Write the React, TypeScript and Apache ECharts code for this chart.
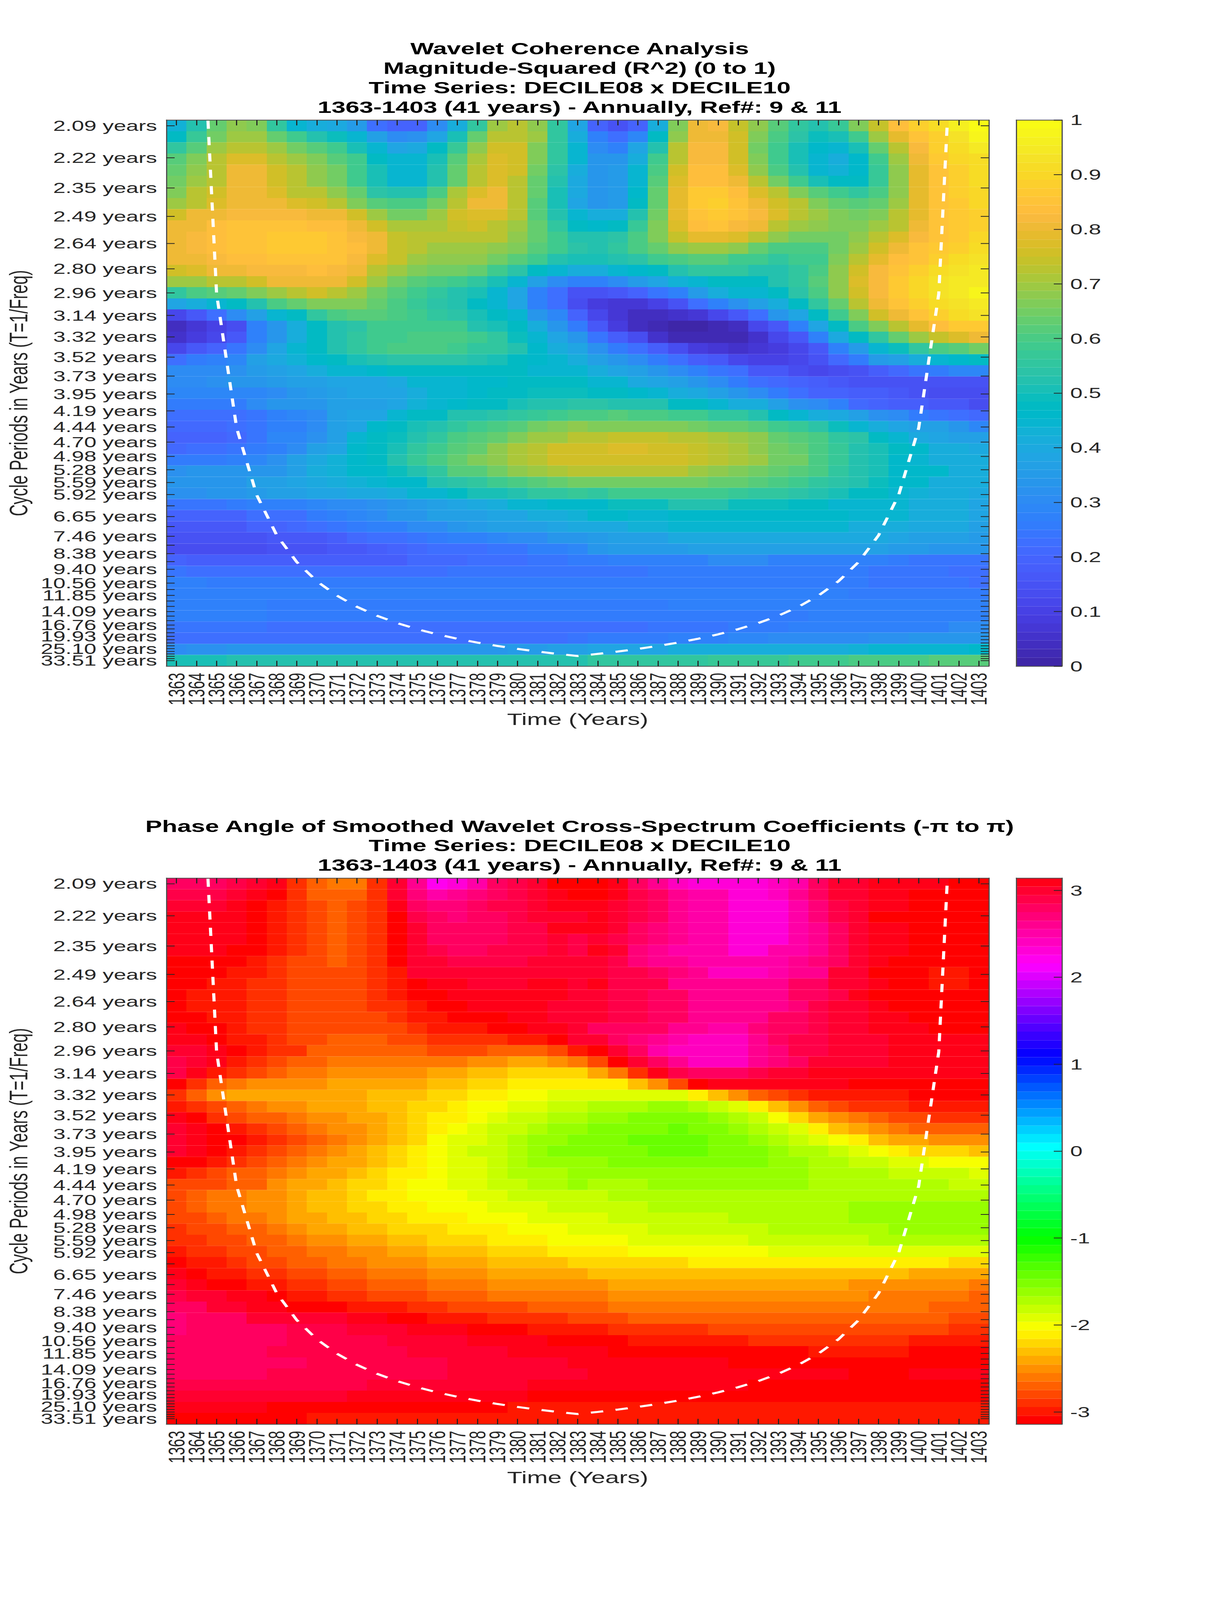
import React, { useEffect, useRef } from "react";
import * as echarts from "echarts";

const years = [1363,1364,1365,1366,1367,1368,1369,1370,1371,1372,1373,1374,1375,1376,1377,1378,1379,1380,1381,1382,1383,1384,1385,1386,1387,1388,1389,1390,1391,1392,1393,1394,1395,1396,1397,1398,1399,1400,1401,1402,1403];
const periods = [2.0944,2.2189,2.3509,2.4907,2.6388,2.7957,2.9619,3.1381,3.3247,3.5224,3.7319,3.9538,4.1889,4.438,4.7019,4.9815,5.2777,5.5915,5.924,6.2763,6.6495,7.0449,7.4638,7.9077,8.3779,8.8761,9.4039,9.9631,10.5555,11.1832,11.8482,12.5527,13.2991,14.0899,14.9278,15.8154,16.7559,17.7522,18.8079,19.9263,21.1112,22.3666,23.6966,25.1,26.5985,28.1802,29.8559,31.6313,33.5122];
const labelledRows = [0,1,2,3,4,5,6,7,8,9,10,11,12,13,14,15,16,17,18,20,22,24,26,28,30,33,36,39,43,48];

// cone of influence, period in years for 1364..1402
const coiYears = [1364,1365,1366,1367,1368,1369,1370,1371,1372,1373,1374,1375,1376,1377,1378,1379,1380,1381,1382,1383,1384,1385,1386,1387,1388,1389,1390,1391,1392,1393,1394,1395,1396,1397,1398,1399,1400,1401,1402];
const coiPeriods = [1.485,2.97,4.455,5.94,7.425,8.91,10.395,11.88,13.365,14.85,16.335,17.82,19.305,20.79,22.275,23.76,25.245,26.73,28.215,29.7,28.215,26.73,25.245,23.76,22.275,20.79,19.305,17.82,16.335,14.85,13.365,11.88,10.395,8.91,7.425,5.94,4.455,2.97,1.485];

// magnitude-squared coherence in percent, rows top to bottom
const coherence = [
[43,52,63,68,67,55,45,41,40,35,23,20,20,30,42,56,70,73,68,56,38,20,15,20,42,67,80,82,74,68,62,55,53,57,67,74,83,88,92,96,99],
[48,57,65,70,70,63,58,52,49,45,37,31,32,39,50,63,73,73,69,56,41,27,22,29,47,68,80,80,75,66,60,54,49,51,59,70,79,85,89,93,97],
[55,62,70,73,73,70,65,61,58,51,45,39,40,47,57,68,75,75,67,56,45,30,27,38,53,72,82,82,75,65,58,51,46,45,51,64,73,82,88,92,94],
[62,67,73,78,78,73,70,67,62,58,47,44,44,51,62,71,78,75,67,55,45,33,33,41,58,73,82,82,75,67,58,50,45,41,46,59,70,81,87,90,92],
[63,68,73,80,80,75,72,68,65,59,50,45,45,53,64,72,78,75,65,54,42,33,35,45,60,75,83,83,78,68,60,52,45,43,46,57,68,79,85,88,92],
[65,70,73,80,80,75,72,68,65,59,50,45,45,53,64,72,78,73,63,52,40,33,35,45,62,77,83,83,80,72,65,59,51,48,48,57,68,79,85,88,92],
[67,72,75,80,80,78,73,72,68,63,54,52,53,60,71,78,80,73,63,51,40,33,35,46,63,79,87,87,83,78,72,67,62,58,55,60,68,79,85,88,90],
[70,73,78,81,81,80,77,75,73,67,61,60,60,65,73,80,80,72,62,50,38,33,35,47,63,79,87,89,85,81,75,72,67,64,62,64,70,79,85,87,90],
[75,80,81,82,82,82,82,81,80,75,70,65,65,70,75,78,78,72,62,52,44,41,42,53,65,79,85,87,85,82,78,73,70,66,65,66,72,79,85,87,88],
[80,81,83,85,85,85,85,83,83,81,75,71,71,71,74,75,73,70,63,56,47,46,47,57,67,78,83,85,82,80,73,70,68,67,67,70,73,81,85,87,88],
[81,82,83,85,85,87,87,87,85,82,80,74,72,72,72,73,72,68,63,58,52,52,54,60,67,74,79,79,78,72,68,65,65,65,68,72,78,82,85,87,90],
[81,82,83,85,85,87,87,87,85,83,80,74,72,70,70,70,68,67,62,58,54,53,56,60,64,68,70,70,68,64,60,60,60,65,70,75,81,85,87,88,91],
[80,81,82,83,83,85,85,85,85,82,78,74,69,68,68,68,65,62,58,53,50,50,52,54,59,60,62,62,59,58,56,58,59,67,72,79,84,85,88,91,93],
[75,78,80,81,82,82,82,83,82,80,73,70,67,65,65,63,59,54,47,44,41,41,44,46,48,52,55,55,55,53,52,56,60,68,75,82,85,89,91,93,94],
[69,70,72,73,75,80,80,81,80,75,70,65,62,60,59,55,50,45,37,31,27,27,31,35,38,43,45,47,48,48,53,56,62,68,78,82,87,90,93,95,95],
[55,60,62,63,67,70,73,75,73,70,65,62,58,55,53,51,45,38,27,22,15,15,17,20,24,28,35,41,44,45,48,54,60,68,75,82,87,90,93,95,97],
[38,41,44,47,52,60,63,67,67,67,64,60,57,54,52,48,45,39,27,23,14,8,7,7,10,15,22,27,32,37,41,47,55,63,72,81,85,89,91,93,94],
[11,17,22,30,37,44,48,56,60,61,61,60,58,56,54,51,47,44,33,29,19,11,7,4,4,5,7,12,17,23,33,39,47,58,67,75,81,85,88,91,93],
[4,7,10,14,27,34,41,47,52,54,58,58,58,58,58,53,51,47,41,33,26,17,9,4,2,1,1,3,4,11,17,27,39,48,60,67,73,79,83,86,87],
[5,8,11,17,27,34,41,47,52,55,59,59,60,60,60,58,56,49,45,39,33,24,18,13,5,3,2,2,2,6,12,17,27,40,47,56,64,69,74,78,81],
[11,17,20,24,30,39,44,47,52,55,58,60,60,60,58,56,55,52,46,41,38,32,26,22,18,13,9,7,6,7,8,12,17,27,35,45,49,56,60,62,65],
[23,26,27,29,36,40,43,46,48,50,52,54,54,54,54,53,50,48,46,45,41,37,34,30,26,22,18,16,12,10,10,11,15,21,26,35,37,41,45,46,47],
[30,30,31,32,35,37,39,42,44,45,46,48,48,48,48,48,48,47,45,45,45,41,39,36,33,31,27,24,22,17,16,13,12,13,15,18,21,24,26,29,29],
[31,31,32,33,34,35,36,37,38,38,38,40,44,45,45,46,46,47,47,47,47,45,44,40,39,36,34,30,26,23,21,20,18,16,15,15,15,15,15,15,15],
[29,29,29,29,29,31,33,35,36,38,38,39,42,44,45,46,47,47,49,49,49,47,47,46,45,42,40,37,34,31,26,22,20,19,18,18,16,15,14,13,13],
[26,26,26,26,30,33,33,34,36,37,37,39,43,45,46,47,48,50,52,53,54,54,53,53,53,48,47,45,42,41,37,32,30,27,21,20,18,18,16,16,14],
[22,22,22,23,24,28,29,31,36,38,38,44,47,48,52,53,54,56,57,59,60,60,61,60,60,58,58,56,55,53,47,45,42,40,36,32,30,26,24,23,21],
[21,21,21,22,24,27,27,31,36,38,46,47,50,52,55,58,60,62,65,66,68,67,67,67,67,67,65,64,63,61,58,57,54,49,45,42,39,37,36,33,29],
[20,20,20,21,24,29,29,32,37,45,47,49,53,56,60,62,64,67,69,70,72,72,74,74,74,72,72,71,70,68,64,61,60,56,54,47,45,40,39,36,36],
[21,22,23,24,26,28,30,36,38,46,47,50,55,58,62,64,68,71,73,75,76,75,78,78,75,75,74,73,71,68,65,63,60,57,53,51,47,46,41,41,40],
[26,26,26,28,29,32,36,40,43,46,48,52,57,60,64,66,68,71,73,75,76,75,75,75,75,75,74,73,71,69,65,65,60,57,53,50,46,45,42,41,41],
[32,33,33,33,33,34,36,41,43,46,46,49,52,56,61,62,65,68,70,71,72,72,72,72,72,72,70,68,67,65,64,61,60,55,53,50,46,46,46,42,41],
[34,34,34,34,36,36,38,40,42,43,45,46,46,52,54,56,58,60,62,64,65,65,65,65,65,65,65,63,63,61,60,58,56,54,52,49,46,46,42,42,41],
[32,32,33,34,35,37,37,38,39,40,40,42,44,45,47,50,51,53,55,56,57,56,58,58,58,58,58,58,57,56,56,54,53,50,48,47,45,43,42,41,40],
[24,24,24,26,27,27,27,29,30,31,32,33,35,37,38,40,42,44,45,46,46,46,49,49,49,52,52,52,49,49,49,47,47,45,44,44,44,41,41,41,38],
[20,20,20,20,22,23,23,25,27,29,31,33,34,36,37,37,38,39,41,42,43,46,46,45,45,46,46,46,46,46,46,46,46,46,44,44,44,41,41,41,38],
[17,17,17,17,19,20,21,23,24,25,27,28,30,31,33,35,36,37,37,38,40,40,40,43,43,44,44,44,44,44,44,44,44,44,41,41,41,40,40,40,37],
[15,15,15,15,15,17,17,17,18,21,22,23,24,26,27,28,29,30,31,33,34,35,37,37,37,40,40,40,40,40,40,40,40,40,40,40,39,37,37,37,35],
[14,14,14,14,14,15,15,15,16,17,18,20,21,22,23,23,24,24,27,28,29,33,35,35,35,35,37,37,37,37,37,37,36,36,36,36,35,35,33,33,33],
[19,18,18,18,18,18,18,18,18,18,18,18,21,21,21,22,22,23,24,24,25,25,27,27,27,27,27,30,30,30,28,28,28,28,27,27,25,24,24,24,24],
[24,23,23,23,23,23,23,23,23,23,23,23,23,23,24,24,24,24,24,24,24,24,24,24,25,25,25,25,25,25,25,25,25,25,25,24,24,24,24,23,23],
[27,27,26,26,26,26,26,26,26,26,26,26,26,26,26,26,26,26,26,26,25,25,25,25,25,25,25,25,25,25,25,25,25,25,25,24,24,24,24,24,22],
[28,28,28,28,28,28,28,28,27,27,27,27,27,27,27,27,27,27,27,27,27,27,27,27,27,27,27,27,27,27,27,27,27,27,25,25,25,25,25,25,25],
[27,27,27,27,27,26,26,26,26,26,26,26,26,26,26,26,26,26,26,26,26,26,26,26,26,27,27,27,27,27,27,27,27,27,27,27,27,27,27,27,27],
[27,27,27,27,27,26,26,25,25,25,25,25,25,25,25,25,25,25,25,25,25,25,26,26,26,26,26,26,26,26,26,26,27,28,28,28,28,28,28,28,28],
[24,24,24,24,24,22,22,22,22,22,22,22,22,22,22,22,22,22,22,22,23,23,22,22,24,24,24,24,26,26,26,27,27,28,28,28,28,28,28,30,30],
[23,23,23,23,22,22,22,22,22,22,22,22,22,22,22,22,22,22,22,23,24,26,26,26,26,28,28,28,29,29,30,30,30,31,31,32,32,33,33,33,33],
[31,32,32,33,33,33,33,33,33,33,33,33,33,33,34,34,34,35,35,36,36,39,39,39,39,41,41,41,41,41,41,42,42,42,43,44,44,45,45,45,46],
[51,51,51,52,52,52,52,52,52,52,52,52,52,52,52,52,52,52,53,53,53,56,56,56,56,56,56,57,57,57,57,58,58,58,60,60,60,60,62,62,62],
];

// phase angle, each value a step 0..63 on the 64-step -pi..pi colour bar
const phaseSteps = [
[60,60,60,61,62,63,2,4,5,5,2,62,58,54,55,57,60,61,62,0,0,0,63,60,58,56,55,55,55,55,56,57,60,62,62,63,63,63,63,0,0],
[61,61,61,62,63,0,2,4,4,4,2,62,59,57,58,59,60,61,62,63,0,0,63,61,60,58,57,57,55,55,56,58,60,62,62,63,63,0,0,0,0],
[62,62,62,63,0,1,2,3,4,3,2,63,60,59,59,60,61,61,62,63,63,63,62,61,60,58,57,57,55,55,55,57,59,61,62,63,63,0,0,0,0],
[63,63,63,63,0,1,2,3,4,3,2,0,61,60,59,60,60,61,62,62,62,63,62,61,60,58,57,57,55,55,55,57,59,61,62,0,0,0,0,0,0],
[63,63,63,63,0,1,2,3,4,3,2,0,62,60,60,60,60,61,61,63,63,63,62,60,59,58,57,57,55,55,55,57,58,60,62,63,63,0,0,0,0],
[63,63,63,63,0,1,2,3,4,3,2,0,62,60,60,60,60,61,61,62,61,62,61,60,59,58,57,57,55,55,55,57,58,60,62,63,63,0,0,0,0],
[63,63,63,0,0,1,2,3,4,3,2,0,62,61,60,60,61,61,61,62,61,63,62,59,58,57,57,57,55,55,57,57,58,60,62,63,63,0,0,0,0],
[0,0,0,0,1,2,3,3,4,3,2,0,62,62,61,61,61,61,62,62,62,62,61,59,58,58,57,57,57,57,57,58,59,60,62,63,0,0,0,0,0],
[0,0,0,1,1,2,3,3,3,3,2,1,62,62,62,62,62,62,62,62,62,62,61,61,60,59,58,56,56,56,57,58,58,62,62,0,0,0,1,1,0],
[0,0,1,1,2,2,3,3,3,3,2,1,0,63,63,62,62,62,63,63,62,63,61,61,61,58,58,58,58,58,58,60,60,62,62,63,0,0,1,1,0],
[0,1,1,1,2,2,3,3,3,3,2,1,0,0,63,63,63,63,63,63,62,62,61,61,60,60,58,58,58,58,58,60,60,61,63,0,0,0,0,0,0],
[0,1,1,1,2,2,3,3,3,3,2,2,1,0,0,63,63,63,63,62,62,62,61,61,60,60,58,58,58,58,58,59,61,62,62,63,0,0,0,0,0],
[0,0,1,1,2,2,3,3,3,3,3,2,1,1,0,0,0,63,63,62,62,62,61,61,60,60,58,58,58,58,60,60,61,62,62,63,63,0,0,0,0],
[63,0,0,1,2,2,3,3,3,3,3,3,2,1,1,1,0,0,63,63,62,60,60,60,60,58,58,57,57,59,60,60,61,62,62,63,63,63,0,0,0],
[63,63,0,1,1,2,3,3,4,4,4,3,3,2,2,2,2,1,1,0,62,62,60,59,58,57,56,56,56,58,60,61,61,62,62,62,63,63,63,63,63],
[62,62,63,0,1,2,2,4,4,4,4,4,4,3,3,3,4,4,4,3,1,0,62,60,57,56,56,56,56,58,59,61,61,62,62,62,63,63,63,63,63],
[61,62,63,1,2,3,4,4,5,5,5,5,5,5,5,6,6,7,7,6,5,3,0,62,60,58,56,56,56,58,59,60,62,62,62,62,63,63,63,63,63],
[61,63,1,2,3,4,5,5,6,6,6,6,6,7,7,8,8,9,9,9,9,7,5,2,63,61,60,60,60,61,62,62,63,63,63,63,63,63,63,63,63],
[0,2,4,5,6,6,6,6,7,7,7,7,7,8,8,9,9,10,10,10,10,10,10,8,6,3,0,63,63,63,63,63,63,63,0,0,0,0,0,0,0],
[2,4,6,7,7,7,7,7,7,7,8,8,8,9,9,10,10,11,11,12,12,12,12,12,12,12,10,8,6,4,3,2,1,1,1,1,1,0,0,0,0],
[1,2,3,4,5,6,6,7,7,7,8,8,9,9,10,11,11,12,12,13,13,14,14,14,15,15,14,13,12,10,8,6,4,3,2,2,2,1,1,1,1],
[63,0,2,3,4,4,5,6,6,7,7,8,9,10,10,11,12,13,13,14,14,15,15,16,16,16,16,15,14,13,11,9,7,6,5,4,3,3,2,2,2],
[62,63,0,1,2,3,4,5,6,6,7,8,9,10,11,12,13,13,14,15,15,16,16,16,16,17,16,16,15,14,13,12,10,8,7,6,5,4,4,4,4],
[62,63,0,0,1,2,3,4,5,6,7,8,9,11,12,12,13,14,15,15,16,16,16,17,17,17,17,16,16,15,14,13,12,11,10,8,7,7,6,6,6],
[62,63,0,1,2,3,4,5,6,7,8,9,10,11,12,13,13,14,15,16,16,16,16,16,17,17,17,16,16,16,15,14,14,13,12,11,10,9,9,9,8],
[0,0,1,2,3,4,5,6,7,7,8,9,10,11,12,12,13,14,15,15,15,15,16,16,16,16,16,16,16,16,15,15,14,14,13,13,12,12,11,11,11],
[1,2,3,4,4,5,6,7,7,8,9,10,10,11,12,12,13,14,14,14,15,15,15,15,15,15,15,15,15,15,15,15,14,14,14,14,13,13,13,13,12],
[3,3,3,4,4,6,7,7,8,9,9,10,11,11,12,12,13,13,14,14,15,14,14,14,15,15,15,15,15,15,15,15,14,14,14,14,14,14,14,13,13],
[3,4,5,5,6,6,7,8,8,9,10,10,11,11,11,12,12,13,13,13,13,13,14,14,14,14,14,14,14,14,14,14,14,14,14,14,14,14,14,14,14],
[3,4,5,5,6,6,7,8,8,9,9,10,10,11,11,11,12,12,12,13,13,13,13,13,14,14,14,14,14,14,14,14,14,14,15,15,15,15,15,15,15],
[3,3,4,5,5,6,7,7,8,8,9,9,10,10,10,11,11,11,12,12,12,12,13,13,13,13,13,13,14,14,14,14,14,14,15,15,15,15,15,15,15],
[2,3,3,4,4,5,6,7,7,8,8,9,9,9,10,10,10,11,11,11,12,12,12,12,13,13,13,13,13,13,14,14,14,14,14,14,15,15,15,15,15],
[2,2,3,3,4,4,5,6,6,7,7,8,8,9,9,9,10,10,10,11,11,11,11,12,12,12,12,12,12,13,13,13,13,13,13,14,14,14,14,14,14],
[1,2,2,3,3,4,4,5,5,6,6,7,7,8,8,8,9,9,9,10,10,10,10,11,11,11,11,11,11,11,12,12,12,12,12,12,12,12,12,12,12],
[0,1,1,2,3,3,4,4,5,5,6,6,6,7,7,7,8,8,8,8,9,9,9,9,9,9,10,10,10,10,10,10,10,10,10,10,10,10,10,9,9],
[63,0,1,1,2,2,3,3,4,4,5,5,5,6,6,6,7,7,7,7,7,8,8,8,8,8,8,8,8,8,8,8,8,8,8,8,8,7,7,7,7],
[62,63,0,0,1,1,2,2,3,3,4,4,4,5,5,5,6,6,6,6,6,6,7,7,7,7,7,7,7,7,7,7,7,7,6,6,6,6,6,6,5],
[61,62,62,63,63,0,1,1,2,2,3,3,3,4,4,4,5,5,5,5,5,5,6,6,6,6,6,6,6,6,6,6,6,6,6,5,5,5,5,5,4],
[60,60,62,62,63,63,0,0,0,1,1,1,2,2,3,3,3,3,4,4,4,4,5,5,5,5,5,5,5,5,5,5,5,5,5,5,5,5,4,4,4],
[59,60,60,60,62,62,62,62,62,63,63,0,0,1,1,1,2,2,2,2,3,3,3,4,4,4,4,4,4,4,4,4,4,4,4,4,4,4,4,3,3],
[59,60,60,60,60,60,61,61,61,62,62,62,63,63,63,0,0,0,1,1,1,1,2,2,2,2,2,3,3,3,3,3,3,3,3,3,3,3,3,2,2],
[60,60,60,60,60,60,61,61,61,61,61,62,62,62,62,63,63,63,63,0,0,0,0,1,1,1,1,1,1,2,2,2,2,2,2,2,2,1,1,1,1],
[60,60,60,60,60,61,61,61,61,61,61,61,62,62,62,62,62,63,63,63,63,63,0,0,0,0,0,0,0,0,0,0,1,1,1,1,1,0,0,0,0],
[60,60,60,60,60,60,60,61,61,61,61,61,61,61,62,62,62,62,62,62,63,63,63,63,63,63,63,63,0,0,0,0,0,0,0,0,0,0,0,0,0],
[60,60,60,60,60,61,61,61,61,61,61,61,61,61,62,62,62,62,62,62,62,63,63,63,63,63,63,63,63,63,63,63,63,63,0,0,0,63,63,63,63],
[61,61,61,61,61,61,61,61,61,61,62,62,62,62,62,62,62,62,63,63,63,63,63,63,63,63,63,63,63,0,0,0,0,0,0,0,0,0,0,0,0],
[62,62,62,62,62,62,62,62,62,63,63,63,63,63,63,63,63,63,0,0,0,0,0,0,0,0,0,0,0,0,0,0,0,0,0,0,0,0,0,0,0],
[63,63,63,63,63,0,0,0,0,0,0,0,0,0,0,0,0,1,1,1,1,1,1,1,1,1,1,1,1,1,1,1,1,1,1,1,1,1,1,1,1],
[0,0,0,0,0,0,0,1,1,1,1,1,1,1,1,1,1,1,1,1,1,1,1,1,1,1,1,1,1,1,1,1,1,1,1,1,1,1,1,1,1],
];

const parula = ["#3E26A8","#402AB4","#422EC0","#4332CB","#4537D5","#463CDE","#4741E5","#4747EB","#474DF0","#4752F4","#4758F8","#465EFB","#4563FD","#4269FE","#3E6FFF","#3875FE","#327CFC","#2F81FA","#2D87F7","#2D8CF3","#2B91EF","#2796EB","#259BE8","#23A0E5","#20A5E3","#1CA9DF","#18ADDB","#12B1D6","#08B5D0","#01B8CA","#02BAC3","#0BBDBD","#19BFB6","#24C1AE","#2CC3A7","#31C69F","#37C897","#3FCA8E","#4ACB84","#57CC7A","#64CD6F","#72CD64","#80CC59","#8FCA4E","#9DC943","#ABC739","#B9C431","#C5C22A","#D1BF27","#DCBD29","#E6BB2D","#EFBA36","#F8BA3D","#FEBE3C","#FEC338","#FEC932","#FCCF2D","#F9D727","#F7DC25","#F5E227","#F5E924","#F5EF20","#F7F51B","#F9FB15"];

const hsvStep = (i: number) => {
  const h = (i / 64) * 6;
  const s = Math.floor(h);
  const f = h - s;
  const rgb = [[1, f, 0], [1 - f, 1, 0], [0, 1, f], [0, 1 - f, 1], [f, 0, 1], [1, 0, 1 - f]][s % 6];
  return `rgb(${rgb.map((c) => Math.round(c * 255)).join(",")})`;
};

const PI = Math.PI;
const freqs = periods.map((p) => 1 / p);
const fTop = freqs[0];
const fBottom = freqs[freqs.length - 1];
const rowStep = (fTop - fBottom) / (periods.length - 1);
const yMin = fBottom - rowStep / 2;
const yMax = fTop + rowStep / 2;
const rowCenter = (r: number) => fTop - r * rowStep;

const tickColor = "#262626";
const boxColor = "#4d4d4d";
const FONT = "Liberation Sans";
const TICK_SIZE = 57;
const PLOT_LEFT = 426;
const PLOT_W = 2105;
const PLOT_H = 2134;
const TOPS = [469, 3431];
const BAR_LEFT = 2601;
const BAR_W = 117;
const PAGE_W = 3125;
const PAGE_H = 6252;

const cellRender = (toColor: (v: number) => string, half: number, halfY: number) => (_: any, api: any) => {
  const x = api.value(0);
  const y = api.value(1);
  const a = api.coord([x - half, y + halfY]);
  const b = api.coord([x + half, y - halfY]);
  const x0 = Math.round(a[0]);
  const y0 = Math.round(a[1]);
  return {
    type: "rect",
    shape: { x: x0, y: y0, width: Math.round(b[0]) - x0, height: Math.round(b[1]) - y0 },
    style: { fill: toColor(api.value(2)) },
  };
};

const coherenceColor = (v: number) => parula[Math.max(0, Math.min(63, Math.floor(v * 64)))];
const phaseColor = (v: number) => hsvStep(Math.max(0, Math.min(63, Math.floor(((v + PI) / (2 * PI)) * 64))));
const stepToPhase = (s: number) => -PI + ((s + 0.5) * 2 * PI) / 64;

const nearestPeriodLabel = (v: number) => {
  let best = 0;
  freqs.forEach((f, i) => {
    if (Math.abs(f - v) < Math.abs(freqs[best] - v)) best = i;
  });
  return `${periods[best].toFixed(2)} years`;
};

const plainLine = { show: true, onZero: false, lineStyle: { color: boxColor, width: 3 } };

const plotAxes = (g: number) => {
  const tickX = { show: true, inside: true, length: 21, customValues: years, lineStyle: { color: tickColor, width: 3 } };
  const tickY = { show: true, inside: true, length: 21, customValues: freqs, lineStyle: { color: tickColor, width: 3 } };
  const xBase = { type: "value", gridIndex: g, min: 1362.5, max: 1403.5, splitLine: { show: false }, axisLine: plainLine, z: 10 };
  const yBase = { type: "value", gridIndex: g, min: yMin, max: yMax, splitLine: { show: false }, axisLine: plainLine, z: 10 };
  const yLabels = (rows: number[]) => ({
    show: true,
    customValues: rows.map((r) => freqs[r]),
    margin: 24,
    fontSize: TICK_SIZE,
    color: tickColor,
    fontFamily: FONT,
    formatter: nearestPeriodLabel,
  });
  return {
    x: [
      { ...xBase, position: "bottom", axisTick: tickX, axisLabel: { show: false } },
      { ...xBase, position: "top", axisTick: tickX, axisLabel: { show: false } },
    ],
    xLabels: {
      type: "category",
      gridIndex: g,
      position: "bottom",
      data: years.map(String),
      boundaryGap: true,
      splitLine: { show: false },
      axisLine: { show: false, onZero: false },
      axisTick: { show: false },
      z: 10,
      name: "Time (Years)",
      nameLocation: "middle",
      nameGap: 176,
      nameTextStyle: { fontSize: 64, color: tickColor, fontFamily: FONT },
      axisLabel: { show: true, interval: 0, rotate: 90, margin: 26, fontSize: TICK_SIZE, color: tickColor, fontFamily: FONT },
    },
    y: [
      {
        ...yBase,
        position: "left",
        name: "Cycle Periods in Years (T=1/Freq)",
        nameLocation: "middle",
        nameRotate: 90,
        nameGap: 346,
        nameTextStyle: { fontSize: 64, color: tickColor, fontFamily: FONT },
        axisTick: tickY,
        axisLabel: yLabels(labelledRows.filter((_, i) => i % 2 === 0)),
      },
      { ...yBase, position: "right", axisTick: tickY, axisLabel: { show: false } },
    ],
    yLabels: {
      ...yBase,
      position: "left",
      axisLine: { show: false, onZero: false },
      axisTick: { show: false },
      axisLabel: yLabels(labelledRows.filter((_, i) => i % 2 === 1)),
    },
  };
};

const barAxes = (g: number, min: number, max: number, ticks: number[]) => {
  const xBase = { type: "value", gridIndex: g, min: 0, max: 1, splitLine: { show: false }, axisLine: plainLine, axisTick: { show: false }, axisLabel: { show: false }, z: 10 };
  const yBase = { type: "value", gridIndex: g, min, max, splitLine: { show: false }, axisLine: plainLine, z: 10 };
  return {
    x: [{ ...xBase, position: "bottom" }, { ...xBase, position: "top" }],
    y: [
      {
        ...yBase,
        position: "right",
        axisTick: { show: true, inside: true, length: 21, customValues: ticks, lineStyle: { color: tickColor, width: 3 } },
        axisLabel: { show: true, customValues: ticks, margin: 21, showMinLabel: true, showMaxLabel: true, fontSize: TICK_SIZE, color: tickColor, fontFamily: FONT, formatter: (v: number) => String(Math.round(v * 10) / 10) },
      },
      { ...yBase, position: "left", axisTick: { show: false }, axisLabel: { show: false } },
    ],
  };
};

const cells = (rows: number[][], map: (n: number) => number) =>
  rows.flatMap((row, r) => row.map((n, c) => [years[c], rowCenter(r), map(n)]));

const coiData = coiYears.map((y, i) => [y, 1 / coiPeriods[i]]);
const coiSeries = (g: number) => ({
  type: "line",
  xAxisIndex: g,
  yAxisIndex: g,
  data: coiData,
  symbol: "none",
  clip: true,
  z: 5,
  silent: true,
  lineStyle: { color: "#ffffff", width: 8, type: [32, 32], cap: "butt" },
});

const barTicks1 = [0, 0.1, 0.2, 0.3, 0.4, 0.5, 0.6, 0.7, 0.8, 0.9, 1];
const barTicks2 = [-3, -2, -1, 0, 1, 2, 3];
const steps64 = parula.map((_, i) => i);

const titleBlock = (text: string, top: number) => ({
  text,
  left: PLOT_LEFT + PLOT_W / 2,
  top,
  textAlign: "center",
  textStyle: { fontSize: 64, fontWeight: "bold", color: "#000", fontFamily: FONT, lineHeight: 76 },
});

export default function App() {
  const ref = useRef<HTMLDivElement>(null);
  // the page's real window may be shorter than the figure: fit its full height
  const fit = Math.min(1, window.innerHeight / PAGE_H);
  useEffect(() => {
    document.body.style.margin = "0";
    const chart = echarts.init(ref.current!, null, { renderer: "svg" });
    const a0 = plotAxes(0);
    const a1 = plotAxes(1);
    const b0 = barAxes(2, 0, 1, barTicks1);
    const b1 = barAxes(3, -PI, PI, barTicks2);
    // index 0..3 are the data axes of each plot; mirrors and label axes follow
    const xAxis: any[] = [a0.x[0], a1.x[0], b0.x[0], b1.x[0], a0.x[1], a1.x[1], b0.x[1], b1.x[1], a0.xLabels, a1.xLabels];
    const yAxis: any[] = [a0.y[0], a1.y[0], b0.y[0], b1.y[0], a0.y[1], a1.y[1], b0.y[1], b1.y[1], a0.yLabels, a1.yLabels];
    chart.setOption({
      animation: false,
      backgroundColor: "#ffffff",
      textStyle: { fontFamily: FONT },
      title: [
        titleBlock("Wavelet Coherence Analysis\nMagnitude-Squared (R^2) (0 to 1)\nTime Series: DECILE08 x DECILE10\n1363-1403 (41 years) - Annually, Ref#: 9 & 11", 147),
        titleBlock("Phase Angle of Smoothed Wavelet Cross-Spectrum Coefficients (-π to π)\nTime Series: DECILE08 x DECILE10\n1363-1403 (41 years) - Annually, Ref#: 9 & 11", 3185),
      ],
      grid: [
        { left: PLOT_LEFT, top: TOPS[0], width: PLOT_W, height: PLOT_H },
        { left: PLOT_LEFT, top: TOPS[1], width: PLOT_W, height: PLOT_H },
        { left: BAR_LEFT, top: TOPS[0], width: BAR_W, height: PLOT_H },
        { left: BAR_LEFT, top: TOPS[1], width: BAR_W, height: PLOT_H },
      ],
      xAxis,
      yAxis,
      series: [
        {
          type: "custom",
          xAxisIndex: 0,
          yAxisIndex: 0,
          silent: true,
          clip: false,
          progressive: 0,
          z: 2,
          encode: { x: 0, y: 1 },
          renderItem: cellRender(coherenceColor, 0.5, rowStep / 2),
          data: cells(coherence, (n) => n / 100),
        },
        coiSeries(0),
        {
          type: "custom",
          xAxisIndex: 1,
          yAxisIndex: 1,
          silent: true,
          clip: false,
          progressive: 0,
          z: 2,
          encode: { x: 0, y: 1 },
          renderItem: cellRender(phaseColor, 0.5, rowStep / 2),
          data: cells(phaseSteps, stepToPhase),
        },
        coiSeries(1),
        {
          type: "custom",
          xAxisIndex: 2,
          yAxisIndex: 2,
          silent: true,
          clip: false,
          progressive: 0,
          z: 2,
          encode: { x: 0, y: 1 },
          renderItem: cellRender(coherenceColor, 0.5, 0.5 / 64),
          data: steps64.map((i) => [0.5, (i + 0.5) / 64, (i + 0.5) / 64]),
        },
        {
          type: "custom",
          xAxisIndex: 3,
          yAxisIndex: 3,
          silent: true,
          clip: false,
          progressive: 0,
          z: 2,
          encode: { x: 0, y: 1 },
          renderItem: cellRender(phaseColor, 0.5, PI / 64),
          data: steps64.map((i) => [0.5, stepToPhase(i), stepToPhase(i)]),
        },
      ],
    });
    return () => chart.dispose();
  }, []);
  return (
    <div style={{ width: PAGE_W, height: Math.floor(PAGE_H * fit), overflow: "hidden" }}>
      <div ref={ref} style={{ width: PAGE_W, height: PAGE_H, transform: `scale(1, ${fit})`, transformOrigin: "0 0" }} />
    </div>
  );
}
